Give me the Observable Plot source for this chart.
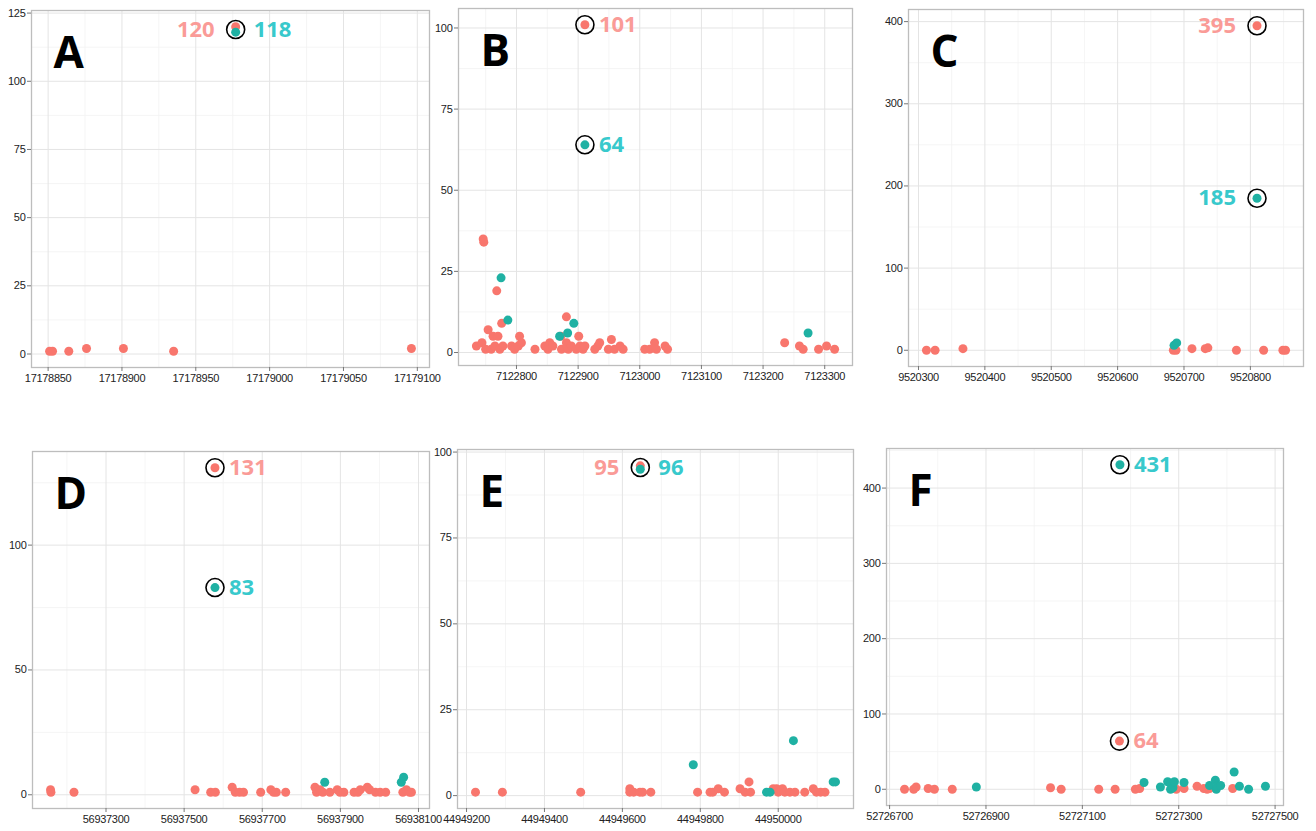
<!DOCTYPE html>
<html><head><meta charset="utf-8">
<script src="https://cdn.jsdelivr.net/npm/d3@7"></script>
<script src="https://cdn.jsdelivr.net/npm/@observablehq/plot@0.6"></script>
<style>
body{margin:0;background:#fff;}
#wrap{position:relative;width:1316px;height:831px;overflow:hidden;background:#fff;}
#wrap svg{position:absolute;overflow:visible;}
#wrap g[aria-label='x-axis tick label'] text, #wrap g[aria-label='y-axis tick label'] text{letter-spacing:-0.3px;}
</style></head><body><div id="wrap"></div>
<script>
// ---------- DATA ----------
// Panel A
const aRed = [[17178851,1],[17178853,1],[17178864,1],[17178876,2],[17178901,2],[17178935,1],[17178977,120],[17179096,2]];
const aTeal = [[17178977,118]];
const aXTicks = [17178850,17178900,17178950,17179000,17179050,17179100];
const aYTicks = [0,25,50,75,100,125];
const aLabels = ["120","118"];
const aSides = ["left","right"];

// Panel B
const bRed = [[7122735,2],[7122744,3],[7122746,35],[7122747,34],[7122750,1],[7122754,7],[7122759,1],[7122762,5],[7122765,2],[7122768,19],[7122770,5],[7122773,1],[7122776,9],[7122778,2],[7122792,2],[7122797,1],[7122803,2],[7122805,5],[7122808,3],[7122830,1],[7122846,2],[7122851,1],[7122854,3],[7122859,2],[7122872,5],[7122873,1],[7122881,11],[7122881,3],[7122884,1],[7122889,2],[7122897,1],[7122901,5],[7122903,2],[7122908,1],[7122911,101],[7122911,2],[7122927,1],[7122932,2],[7122935,3],[7122949,1],[7122954,4],[7122959,1],[7122968,2],[7122973,1],[7123008,1],[7123016,1],[7123024,3],[7123027,1],[7123041,2],[7123045,1],[7123235,3],[7123259,2],[7123265,1],[7123290,1],[7123303,2],[7123316,1]];
const bTeal = [[7122775,23],[7122786,10],[7122870,5],[7122883,6],[7122893,9],[7122911,64],[7123273,6]];
const bXTicks = [7122800,7122900,7123000,7123100,7123200,7123300];
const bYTicks = [0,25,50,75,100];
const bLabels = ["101","64"];
const bSides = ["right","right"];

// Panel C
const cRed = [[9520312,0],[9520325,0],[9520367,2],[9520684,0],[9520688,0],[9520712,2],[9520732,2],[9520736,3],[9520779,0],[9520810,395],[9520820,0],[9520849,0],[9520853,0]];
const cTeal = [[9520685,6],[9520689,9],[9520810,185]];
const cXTicks = [9520300,9520400,9520500,9520600,9520700,9520800];
const cYTicks = [0,100,200,300,400];
const cLabels = ["395","185"];
const cSides = ["left","left"];

// Panel D
const dRed = [[56937158,2],[56937159,1],[56937218,1],[56937528,2],[56937568,1],[56937579,131],[56937580,1],[56937623,3],[56937631,1],[56937642,1],[56937652,1],[56937696,1],[56937722,2],[56937729,1],[56937736,1],[56937760,1],[56937835,3],[56937839,1],[56937848,2],[56937855,1],[56937873,1],[56937892,2],[56937899,1],[56937909,1],[56937935,1],[56937945,1],[56937951,2],[56937969,3],[56937975,2],[56937990,1],[56938002,1],[56938016,1],[56938060,1],[56938069,2],[56938077,1],[56938082,1]];
const dTeal = [[56937579,83],[56937860,5],[56938056,5],[56938062,7]];
const dXTicks = [56937300,56937500,56937700,56937900,56938100];
const dYTicks = [0,50,100];
const dLabels = ["131","83"];
const dSides = ["right","right"];

// Panel E
const eRed = [[44949223,1],[44949292,1],[44949493,1],[44949619,2],[44949619,1],[44949629,1],[44949645,1],[44949646,96],[44949652,1],[44949673,1],[44949793,1],[44949825,1],[44949832,1],[44949846,2],[44949862,1],[44949902,2],[44949915,1],[44949925,4],[44949929,1],[44949987,2],[44949996,2],[44950000,1],[44950011,2],[44950017,1],[44950030,1],[44950043,1],[44950068,1],[44950090,2],[44950098,1],[44950109,1],[44950120,1]];
const eTeal = [[44949646,95],[44949782,9],[44949970,1],[44949979,1],[44950039,16],[44950141,4],[44950147,4]];
const eXTicks = [44949200,44949400,44949600,44949800,44950000];
const eYTicks = [0,25,50,75,100];
const eLabels = ["95","96"];
const eSides = ["left","right"];

// Panel F
const fRed = [[52726731,0],[52726750,0],[52726755,3],[52726780,1],[52726793,0],[52726830,0],[52727034,2],[52727056,0],[52727134,0],[52727168,0],[52727177,64],[52727210,0],[52727219,1],[52727295,0],[52727311,1],[52727338,4],[52727352,1],[52727359,0],[52727364,1],[52727412,1]];
const fTeal = [[52726880,3],[52727178,431],[52727228,9],[52727262,3],[52727277,10],[52727283,0],[52727284,8],[52727288,2],[52727291,10],[52727311,9],[52727364,5],[52727376,12],[52727378,0],[52727380,4],[52727387,5],[52727415,23],[52727426,4],[52727445,0],[52727480,4]];
const fXTicks = [52726700,52726900,52727100,52727300,52727500];
const fYTicks = [0,100,200,300,400];
const fLabels = ["64","431"];
const fSides = ["right","right"];

const panelLetters = ["A","B","C","D","E","F"];

// ---------- STYLE / LAYOUT ----------
const RED = "#F8766D", TEAL = "#1FB1A3";
const RED_TXT = "#FA9B97", TEAL_TXT = "#38C9CC";
const frames = [
  [31,10,429,367],[458,8,852,365],[908,9,1303,366],
  [32,451,429,808],[457,449,853,808],[886,448,1283,805]
];
const panels = [
  {red:aRed, teal:aTeal, xt:aXTicks, yt:aYTicks, labels:aLabels, sides:aSides},
  {red:bRed, teal:bTeal, xt:bXTicks, yt:bYTicks, labels:bLabels, sides:bSides},
  {red:cRed, teal:cTeal, xt:cXTicks, yt:cYTicks, labels:cLabels, sides:cSides},
  {red:dRed, teal:dTeal, xt:dXTicks, yt:dYTicks, labels:dLabels, sides:dSides},
  {red:eRed, teal:eTeal, xt:eXTicks, yt:eYTicks, labels:eLabels, sides:eSides},
  {red:fRed, teal:fTeal, xt:fXTicks, yt:fYTicks, labels:fLabels, sides:fSides}
];

const wrap = document.getElementById("wrap");
const ext = v => { const lo = d3.min(v), hi = d3.max(v), p = (hi - lo) * 0.05; return [lo - p, hi + p]; };
const inDom = (v, d) => v >= d[0] && v <= d[1];
const mids = (t, d) => { const s = t[1] - t[0], out = []; for (let v = t[0] - s / 2; v <= t[t.length - 1] + s; v += s) if (inDom(v, d)) out.push(v); return out; };
const fmt = d3.format("d");

panels.forEach((p, i) => {
  const [x0, y0, x1, y1] = frames[i];
  const mL = 44, mT = 12, mR = 44, mB = 34;
  const all = p.red.concat(p.teal);
  const xd = ext(all.map(d => d[0])), yd = ext(all.map(d => d[1]));
  const rp = p.red.reduce((a, b) => b[1] > a[1] ? b : a);
  const tp = p.teal.reduce((a, b) => b[1] > a[1] ? b : a);
  const ySpan = yd[1] - yd[0];
  const merged = Math.abs(rp[0] - tp[0]) < 5 && Math.abs(rp[1] - tp[1]) < ySpan * 0.04;
  const circles = merged ? [[(rp[0] + tp[0]) / 2, (rp[1] + tp[1]) / 2]] : [rp, tp];
  const lab = [
    {x: rp[0], y: merged ? (rp[1] + tp[1]) / 2 : rp[1], t: p.labels[0], c: RED_TXT, side: p.sides[0]},
    {x: tp[0], y: merged ? (rp[1] + tp[1]) / 2 : tp[1], t: p.labels[1], c: TEAL_TXT, side: p.sides[1]}
  ];
  const dxFor = s => s === "left" ? -21 : (merged ? 18 : 14);
  const plot = Plot.plot({
    width: x1 - x0 + mL + mR,
    height: y1 - y0 + mT + mB,
    marginLeft: mL, marginTop: mT, marginRight: mR, marginBottom: mB,
    x: {domain: xd}, y: {domain: yd},
    style: {background: "transparent", fontFamily: "'Liberation Sans', Arial, sans-serif", fontSize: "11px"},
    marks: [
      Plot.ruleX(mids(p.xt, xd), {stroke: "#F2F2F2", strokeWidth: 0.8}),
      Plot.ruleY(mids(p.yt, yd), {stroke: "#F2F2F2", strokeWidth: 0.8}),
      Plot.ruleX(p.xt.filter(v => inDom(v, xd)), {stroke: "#E4E4E4", strokeWidth: 1}),
      Plot.ruleY(p.yt.filter(v => inDom(v, yd)), {stroke: "#E4E4E4", strokeWidth: 1}),
      Plot.frame({stroke: "#BDBDBD", strokeWidth: 1.3}),
      Plot.axisX({ticks: p.xt.filter(v => inDom(v, xd)), tickFormat: fmt, tickSize: 4, tickPadding: 3, stroke: "#777", fill: "#222", label: null}),
      Plot.axisY({ticks: p.yt.filter(v => inDom(v, yd)), tickFormat: fmt, tickSize: 4, tickPadding: 2, stroke: "#777", fill: "#222", label: null}),
      Plot.dot(p.red, {x: d => d[0], y: d => d[1], r: 4.5, fill: RED}),
      Plot.dot(p.teal, {x: d => d[0], y: d => d[1], r: 4.5, fill: TEAL}),
      Plot.dot(circles, {x: d => d[0], y: d => d[1], r: 9, stroke: "#000", strokeWidth: 1.6, fill: "none"}),
      Plot.text(lab, {x: "x", y: "y", text: "t", fill: "c", textAnchor: "start",
        fontSize: 22, fontWeight: 700, fontFamily: "'Open Sans', sans-serif", lineAnchor: "middle"}),
      Plot.text([panelLetters[i]], {frameAnchor: "top-left", dx: 22, dy: 57, lineAnchor: "bottom", textAnchor: "start",
        fontSize: 44, fontWeight: 700, fontFamily: "'Open Sans', sans-serif", fill: "#000"})
    ]
  });
  // place value labels left or right of their highlighted point
  const textGroups = plot.querySelectorAll("g[aria-label='text']");
  if (textGroups.length) {
    textGroups[0].querySelectorAll("text").forEach((el, k) => {
      const s = lab[k].side;
      el.setAttribute("text-anchor", s === "left" ? "end" : "start");
      el.setAttribute("dx", dxFor(s));
    });
  }
  plot.style.left = (x0 - mL) + "px";
  plot.style.top = (y0 - mT) + "px";
  wrap.appendChild(plot);
});
</script></body></html>
